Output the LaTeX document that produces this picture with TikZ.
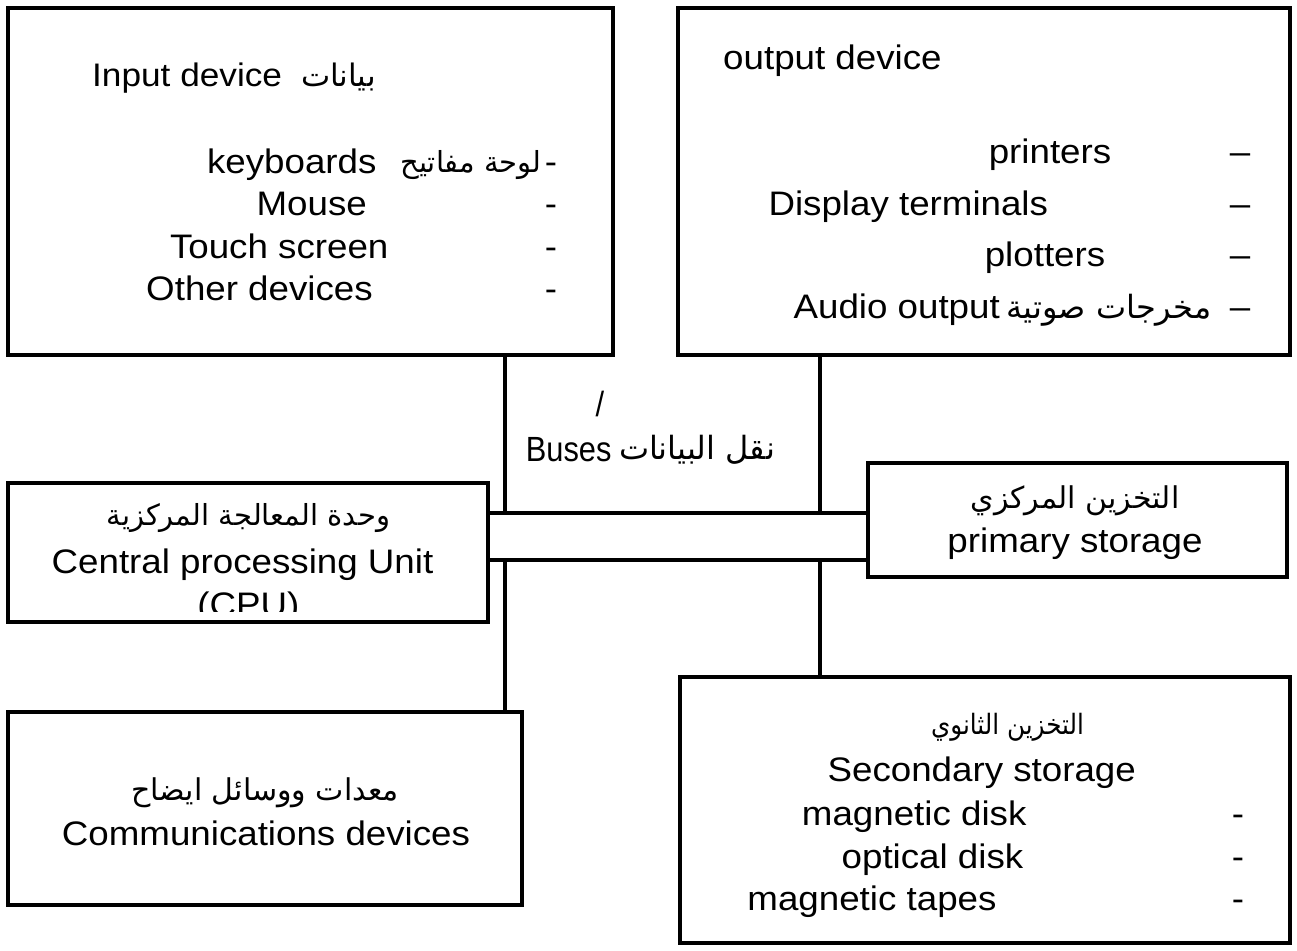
\documentclass[tikz,border=0pt]{standalone}
\usepackage{fontspec}
\setmainfont{Liberation Sans}
\newfontfamily\lsw[FakeStretch=1.08]{Liberation Sans}
\newfontfamily\lsn[FakeStretch=0.88]{Liberation Sans}
\newfontfamily\ar[Script=Arabic]{DejaVu Sans}
\newfontfamily\arn[Script=Arabic,FakeStretch=0.88]{DejaVu Sans}
\TeXXeTstate=1
\begin{document}
\begin{tikzpicture}[x=1pt,y=-1pt,
  box/.style={draw, line width=4pt, rectangle, inner sep=0pt},
  conn/.style={line width=4pt},
  txt/.style={font=\lsw\fontsize{34}{40}\selectfont, inner sep=0pt, anchor=base},
  artxt/.style={font=\ar\fontsize{#1}{36}\selectfont, inner sep=0pt, anchor=base},
  artxt/.default=29]
\useasboundingbox (0,0) rectangle (1297,950);
% boxes
\node[box, minimum width=605pt, minimum height=347pt] (inp) at (310.5,181.5) {};
\node[box, minimum width=612pt, minimum height=347pt] (out) at (984,181.5) {};
\node[box, minimum width=480pt, minimum height=139pt] (cpu) at (248,552.5) {};
\node[box, minimum width=419pt, minimum height=114pt] (prim) at (1077.5,520) {};
\node[box, minimum width=514pt, minimum height=193pt] (comm) at (265,808.5) {};
\node[box, minimum width=610pt, minimum height=266pt] (sec) at (985,810) {};
% bus junctions
\coordinate (jTL) at (505,513);
\coordinate (jTR) at (820,513);
\coordinate (jBL) at (505,560);
\coordinate (jBR) at (820,560);
\draw[conn] (cpu.east |- jTL) -- (prim.west |- jTL);
\draw[conn] (cpu.east |- jBL) -- (prim.west |- jBL);
\draw[conn] (inp.south -| jTL) -- (jTL);
\draw[conn] (out.south -| jTR) -- (jTR);
\draw[conn] (jBL) -- (jBL |- comm.north);
\draw[conn] (jBR) -- (jBR |- sec.north);
% input box
\node[txt, font=\lsw\fontsize{32.6}{40}\selectfont, anchor=base west] (i0) at (92,86.7) {Input device};
\node[artxt=31] (i0a) at (338.5,86.7) {\beginR بيانات\endR};
\node[txt, anchor=base east] (i1) at (376.7,173.3) {keyboards};
\node[artxt=29] (i1a) at (471,172) {\beginR لوحة مفاتيح\endR};
\node[txt] (i1d) at (551,173.3) {-};
\node[txt] (i2) at (311.7,215.7) {Mouse};
\node[txt] (i2d) at (551,215.7) {-};
\node[txt] (i3) at (279.2,258.3) {Touch screen};
\node[txt] (i3d) at (551,258.3) {-};
\node[txt] (i4) at (259.5,300) {Other devices};
\node[txt] (i4d) at (551,300) {-};
% output box
\node[txt, anchor=base west] (o0) at (723,69.3) {output device};
\node[txt] (o1) at (1050,163.3) {printers};
\node[txt] (o1d) at (1240,163.3) {\textendash};
\node[txt] (o2) at (908.3,215) {Display terminals};
\node[txt] (o2d) at (1240,215) {\textendash};
\node[txt] (o3) at (1045,266.7) {plotters};
\node[txt] (o3d) at (1240,266.7) {\textendash};
\node[txt, anchor=base east] (o4) at (1000,318.3) {Audio output};
\node[artxt=32] (o4a) at (1109,318) {\beginR مخرجات صوتية\endR};
\node[txt] (o4d) at (1240,318.3) {\textendash};
% bus label
\node[txt, font=\lsn\fontsize{35}{40}\selectfont] (b0) at (600,416.7) {/};
\node[txt, font=\lsn\fontsize{35}{40}\selectfont, anchor=base east] (b1) at (611.7,461.7) {Buses};
\node[artxt=32] (b1a) at (697,459) {\beginR نقل البيانات\endR};
% cpu
\node[artxt=29] (c0) at (248.3,525) {\beginR وحدة المعالجة المركزية\endR};
\node[txt] (c1) at (242.5,573.3) {Central processing Unit};
\begin{scope}
\clip (0,480) rectangle (1297,611.7);
\node[txt] (c2) at (248.3,616) {(CPU)};
\end{scope}
% primary
\node[artxt=30] (p0) at (1075,508) {\beginR التخزين المركزي\endR};
\node[txt] (p1) at (1075,552) {primary storage};
% comm
\node[artxt=30] (m0) at (265,800) {\beginR معدات ووسائل ايضاح\endR};
\node[txt] (m1) at (266,845) {Communications devices};
% secondary
\node[artxt, font=\arn\fontsize{28}{36}\selectfont] (s0) at (1007.5,734) {\beginR التخزين الثانوي\endR};
\node[txt] (s1) at (981.7,781.7) {Secondary storage};
\node[txt] (s2) at (914.2,825) {magnetic disk};
\node[txt] (s2d) at (1238,825) {-};
\node[txt] (s3) at (932.5,868.3) {optical disk};
\node[txt] (s3d) at (1238,868.3) {-};
\node[txt, anchor=base east] (s4) at (996.7,910) {magnetic tapes};
\node[txt] (s4d) at (1238,910) {-};
\end{tikzpicture}
\end{document}
